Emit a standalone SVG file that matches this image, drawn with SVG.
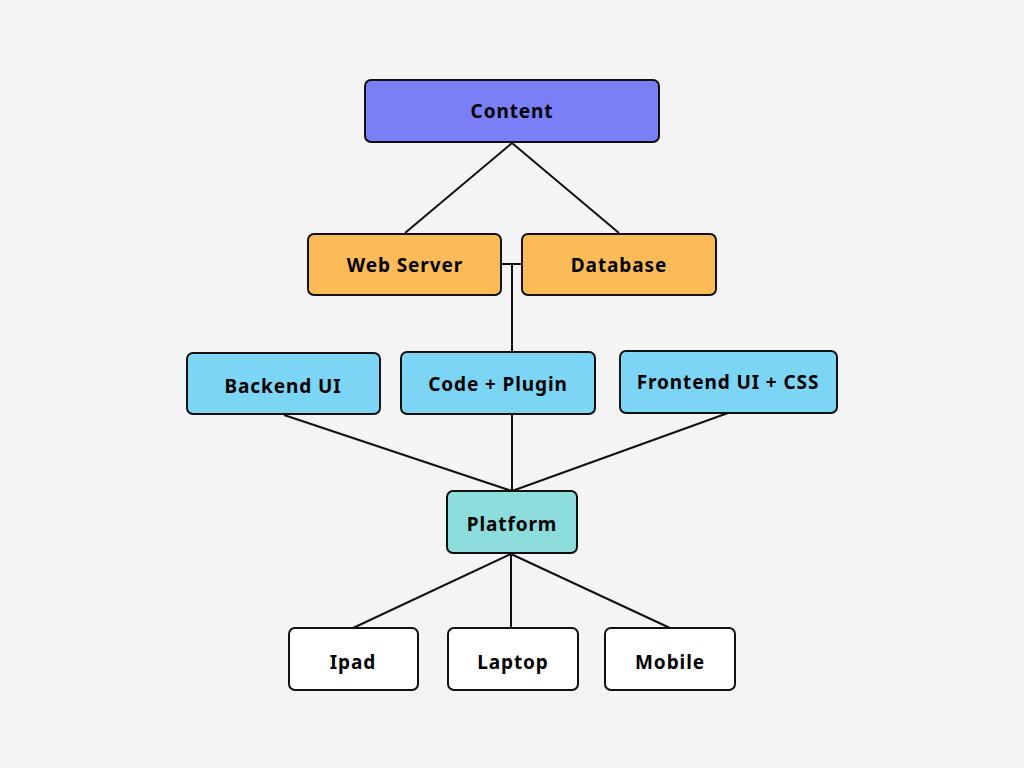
<svg xmlns="http://www.w3.org/2000/svg" width="1024" height="768" viewBox="0 0 1024 768">
<style>
.n{stroke:#111;stroke-width:2}
.t{font-family:"Noto Sans","Liberation Sans",sans-serif;font-weight:bold;font-size:19px;letter-spacing:0.9px;fill:#000;text-anchor:middle;dominant-baseline:central}
.c{stroke:#111;stroke-width:2;fill:none}
</style>
<rect width="1024" height="768" fill="#f4f4f4"/>
<g id="connectors">
<line class="c" x1="512" y1="143" x2="405" y2="233"/>
<line class="c" x1="512" y1="143" x2="619" y2="233"/>
<line class="c" x1="502" y1="264" x2="522" y2="264"/>
<line class="c" x1="512" y1="264" x2="512" y2="352"/>
<line class="c" x1="284" y1="415" x2="512" y2="491"/>
<line class="c" x1="512" y1="415" x2="512" y2="491"/>
<line class="c" x1="728" y1="413" x2="512" y2="491"/>
<line class="c" x1="511" y1="554" x2="353" y2="628"/>
<line class="c" x1="511" y1="554" x2="511" y2="628"/>
<line class="c" x1="511" y1="554" x2="670" y2="628"/>
</g>
<g id="content"><rect class="n" x="365" y="80" width="294" height="62" rx="6" fill="#7a7ff7"/><text class="t" x="512" y="111" font-size="20">Content</text></g>
<g id="webserver"><rect class="n" x="308" y="234" width="193" height="61" rx="6" fill="#fdbb58"/><text class="t" x="405" y="265">Web Server</text></g>
<g id="database"><rect class="n" x="522" y="234" width="194" height="61" rx="6" fill="#fdbb58"/><text class="t" x="619" y="265">Database</text></g>
<g id="backendui"><rect class="n" x="187" y="353" width="193" height="61" rx="6" fill="#7dd5f5"/><text class="t" x="283" y="386">Backend UI</text></g>
<g id="codeplugin"><rect class="n" x="401" y="352" width="194" height="62" rx="6" fill="#7dd5f5"/><text class="t" x="498" y="384">Code + Plugin</text></g>
<g id="frontendui"><rect class="n" x="620" y="351" width="217" height="62" rx="6" fill="#7dd5f5"/><text class="t" x="728" y="382">Frontend UI + CSS</text></g>
<g id="platform"><rect class="n" x="447" y="491" width="130" height="62" rx="6" fill="#8cdcdc"/><text class="t" x="512" y="524">Platform</text></g>
<g id="ipad"><rect class="n" x="289" y="628" width="129" height="62" rx="6" fill="#ffffff"/><text class="t" x="353" y="662">Ipad</text></g>
<g id="laptop"><rect class="n" x="448" y="628" width="130" height="62" rx="6" fill="#ffffff"/><text class="t" x="513" y="662">Laptop</text></g>
<g id="mobile"><rect class="n" x="605" y="628" width="130" height="62" rx="6" fill="#ffffff"/><text class="t" x="670" y="662">Mobile</text></g>
</svg>
